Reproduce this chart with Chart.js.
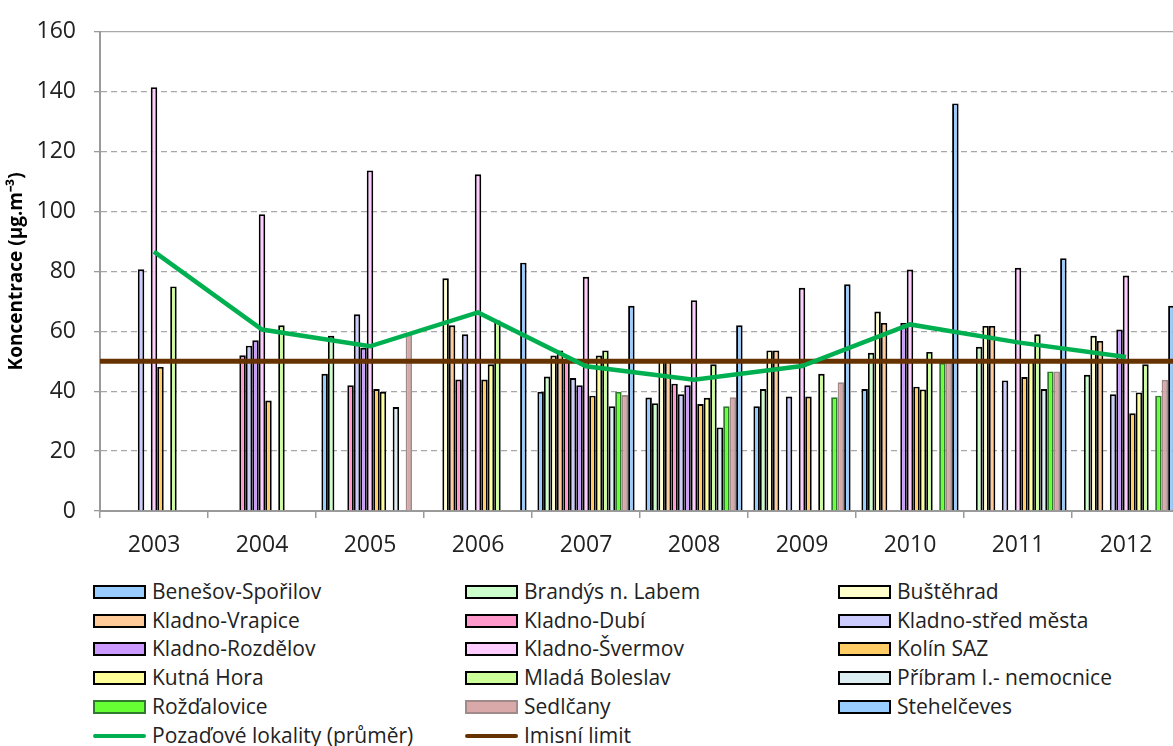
<!DOCTYPE html>
<html>
<head>
<meta charset="utf-8">
<script src="https://cdn.jsdelivr.net/npm/chart.js@4.4.1/dist/chart.umd.min.js"></script>
<style>
  html, body { margin: 0; padding: 0; background: #fff; overflow: hidden; }
  #wrap { position: relative; width: 1173px; height: 746px; overflow: hidden; }
  #c { position: absolute; left: 0; top: 0; }
  .lg { position: absolute; font-family: 'Open Sans', sans-serif; font-size: 21px; color: #222; white-space: nowrap; line-height: 28px; height: 28px; }
  .lg .box { position: absolute; left: 0; top: 7px; width: 49px; height: 10px; border: 2px solid #000; box-sizing: content-box; }
  .lg .ln { position: absolute; left: 0; top: 12px; width: 53px; height: 4px; border-radius: 2px; }
  .lg .tx { position: absolute; left: 59px; top: -1px; }
</style>
</head>
<body>
<div id="wrap">
  <canvas id="c" width="1180" height="565"></canvas>
  <div id="legend"></div>
</div>
<script>
const years = ['2003','2004','2005','2006','2007','2008','2009','2010','2011','2012'];
const yTicks = [0, 20, 40, 60, 80, 100, 120, 140, 160];

const stationNames = [
  'Benešov-Spořilov', 'Brandýs n. Labem', 'Buštěhrad', 'Kladno-Vrapice', 'Kladno-Dubí',
  'Kladno-střed města', 'Kladno-Rozdělov', 'Kladno-Švermov', 'Kolín SAZ', 'Kutná Hora',
  'Mladá Boleslav', 'Příbram I.- nemocnice', 'Rožďalovice', 'Sedlčany', 'Stehelčeves'
];

const benesov      = [null, null, 45.8, null, 39.8, 37.9, 35.0, 40.7, null, null];
const brandys      = [null, null, 58.5, null, 44.9, 36.0, 40.7, 52.8, 54.8, 45.5];
const bustehrad    = [null, null, null, 77.7, 51.9, 50.6, 53.6, 66.6, 61.8, 58.5];
const vrapice      = [null, null, null, 62.0, 53.6, 50.6, 53.6, 62.8, 61.8, 56.8];
const dubi         = [null, 52.0, 42.0, 43.9, 50.5, 42.5, null, null, null, null];
const stred        = [80.7, 55.2, 65.7, 59.0, 44.4, 39.0, 38.2, null, 43.6, 39.0];
const rozdelov     = [null, 57.0, 54.5, null, 42.0, 42.0, null, 62.8, null, 60.6];
const svermov      = [141.5, 99.1, 113.7, 112.4, 78.2, 70.4, 74.5, 80.6, 81.2, 78.6];
const kolin        = [48.1, 36.9, 40.7, 43.9, 38.5, 35.7, 38.2, 41.5, 44.7, 32.6];
const kutnaHora    = [null, null, 39.8, 49.0, 51.9, 37.8, null, 40.6, 50.6, 39.6];
const mladaBoleslav= [75.0, 62.0, null, 63.6, 53.6, 49.0, 45.8, 53.1, 59.0, 49.0];
const pribram      = [null, null, 34.7, null, 35.0, 27.9, null, null, 40.7, null];
const rozdalovice  = [null, null, null, null, 39.8, 35.0, 38.0, 49.5, 46.6, 38.5];
const sedlcany     = [null, null, 59.4, null, 38.7, 38.0, 43.0, 50.6, 46.6, 43.8];
const stehelceves  = [null, null, null, 82.9, 68.5, 62.0, 75.7, 136.1, 84.4, 68.5];

const backgroundAvg = [86.6, 60.6, 55.0, 66.3, 48.3, 43.8, 48.4, 62.3, 56.3, 51.4];
const limitValue = 50;
const avgName = 'Pozaďové lokality (průměr)';
const limitName = 'Imisní limit';

const seriesValues = [benesov, brandys, bustehrad, vrapice, dubi, stred, rozdelov, svermov,
  kolin, kutnaHora, mladaBoleslav, pribram, rozdalovice, sedlcany, stehelceves];

const fills = ['#99CCFF', '#CCFFCC', '#FFFFCC', '#FFCC99', '#FF99CC', '#CCCCFF', '#CC99FF', '#FFCCFF',
  '#FFCC66', '#FFFF99', '#CCFF99', '#DDEEF3', '#66FF33', '#D9A9A9', '#99CCFF'];
const borders = ['#000','#000','#000','#000','#000','#000','#000','#000',
  '#000','#000','#000','#000','#2f7a2f','#A08A8A','#000'];

const datasets = [];
datasets.push({
  type: 'line', label: avgName, data: backgroundAvg,
  borderColor: '#00B050', borderWidth: 4.5, pointRadius: 0, tension: 0, order: -2, fill: false
});
// limit line spans the whole plot: from the left edge of the first category to the right edge of the last
datasets.push({
  type: 'line', label: limitName, parsing: false,
  data: [{ x: -0.5, y: limitValue }, { x: years.length - 0.5, y: limitValue }],
  borderColor: '#663300', borderWidth: 5, pointRadius: 0, order: -1, fill: false
});
stationNames.forEach((name, i) => {
  datasets.push({
    type: 'bar', label: name, data: seriesValues[i],
    backgroundColor: fills[i], borderColor: borders[i], borderWidth: 1.9,
    categoryPercentage: 0.9, barPercentage: 1.0, order: 1
  });
});

const tickFont = { family: 'Open Sans', size: 23 };

const chart = new Chart(document.getElementById('c'), {
  type: 'bar',
  data: { labels: years, datasets },
  options: {
    responsive: false,
    animation: false,
    layout: { padding: { top: 19, left: 0, right: 0, bottom: 0 } },
    plugins: { legend: { display: false }, tooltip: { enabled: false } },
    scales: {
      x: {
        type: 'category', offset: true, bounds: 'ticks',
        grid: { offset: true, drawOnChartArea: false, drawTicks: true, tickLength: 7,
                color: '#9a9a9a', tickColor: '#9a9a9a', lineWidth: 1.5 },
        border: { display: true, color: '#9a9a9a', width: 2 },
        ticks: { font: tickFont, color: '#222', padding: 14, maxRotation: 0 },
        afterFit: s => { s.height = 54; }
      },
      y: {
        min: 0, max: 160,
        afterBuildTicks: s => { s.ticks = yTicks.map(v => ({ value: v })); },
        ticks: { font: tickFont, color: '#222', padding: 18 },
        grid: { color: '#a8a8a8', lineWidth: 1.3, tickLength: 6, tickColor: '#9a9a9a', tickBorderDash: [] },
        border: { display: true, color: '#9a9a9a', width: 2,
                  dash: c => (c.tick && c.tick.value === 160) ? [] : [6, 4] },
        title: { display: true, text: 'Koncentrace (µg.m⁻³)', color: '#000',
                 font: { family: 'Open Sans', size: 19, weight: 'bold' }, padding: { top: 5, bottom: 0 } },
        afterFit: s => { s.width = 100; }
      }
    }
  }
});

// HTML legend (3 columns, row-major), same order as the datasets
const legendItems = stationNames.map((n, i) => ({ label: n, kind: 'box', fill: fills[i], border: borders[i] }))
  .concat([{ label: avgName, kind: 'line', color: '#00B050' }, { label: limitName, kind: 'line', color: '#663300' }]);
const colX = [93, 465, 838];
const rowY0 = 578, rowStep = 28.7;
const lg = document.getElementById('legend');
legendItems.forEach((it, i) => {
  const d = document.createElement('div');
  d.className = 'lg';
  d.style.left = colX[i % 3] + 'px';
  d.style.top = (rowY0 + Math.floor(i / 3) * rowStep) + 'px';
  const mark = document.createElement('span');
  if (it.kind === 'box') {
    mark.className = 'box';
    mark.style.background = it.fill;
    mark.style.borderColor = it.border;
  } else {
    mark.className = 'ln';
    mark.style.background = it.color;
  }
  const t = document.createElement('span');
  t.className = 'tx';
  t.textContent = it.label;
  d.appendChild(mark); d.appendChild(t);
  lg.appendChild(d);
});
</script>
</body>
</html>
